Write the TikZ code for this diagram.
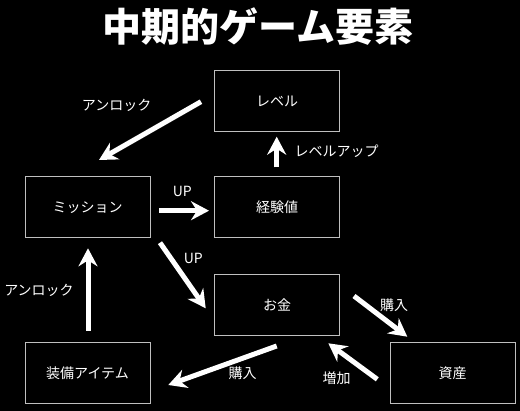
\documentclass[tikz,border=0pt]{standalone}
\usepackage{fontspec}
\setmainfont{Noto Sans CJK JP}
\usetikzlibrary{arrows.meta}
\begin{document}
\begin{tikzpicture}[x=1pt,y=-1pt,
  box/.style={draw=black!25!white, line width=1pt, minimum width=125pt, minimum height=61pt, inner sep=0pt, text=white, font=\fontsize{14}{16}\selectfont},
  lbl/.style={text=white, font=\fontsize{14}{16}\selectfont, inner sep=0pt},
  bigarrow/.style={draw=white, line width=5pt, -{Stealth[length=18pt,width=19pt,inset=6pt]}}]
\fill[black] (0,0) rectangle (520,411);
\useasboundingbox (0,0) rectangle (520,411);
\node[text=white, font=\fontsize{39}{42}\selectfont\bfseries] (title) at (258,27) {中期的ゲーム要素};
\node[box] (level) at (277.2,101.5) {レベル};
\node[box] (mission) at (87.5,207.2) {ミッション};
\node[box] (exp) at (277.2,207.2) {経験値};
\node[box] (money) at (277.2,305.2) {お金};
\node[box] (equip) at (87.5,372.8) {装備アイテム};
\node[box] (asset) at (452.5,372.8) {資産};
\coordinate (a1s) at (201,101.7); \coordinate (a1e) at (99,160);
\coordinate (a2s) at (276.7,167.3); \coordinate (a2e) at (276.7,136.7);
\coordinate (a3s) at (159.3,210.7); \coordinate (a3e) at (209,210.7);
\coordinate (a4s) at (160,242.7); \coordinate (a4e) at (205.7,308.3);
\coordinate (a5s) at (88,330.7); \coordinate (a5e) at (88,248.3);
\coordinate (a6s) at (276.7,346); \coordinate (a6e) at (168.3,385);
\coordinate (a7s) at (354,296); \coordinate (a7e) at (407.3,336.7);
\coordinate (a8s) at (377.3,379.3); \coordinate (a8e) at (328.3,343.3);
\draw[bigarrow] (a1s) -- (a1e);
\draw[bigarrow] (a2s) -- (a2e);
\draw[bigarrow] (a3s) -- (a3e);
\draw[bigarrow] (a4s) -- (a4e);
\draw[bigarrow] (a5s) -- (a5e);
\draw[bigarrow] (a6s) -- (a6e);
\draw[bigarrow] (a7s) -- (a7e);
\draw[bigarrow] (a8s) -- (a8e);
\node[lbl] (l1) at (116.7,105) {アンロック};
\node[lbl] (l2) at (336.7,151.7) {レベルアップ};
\node[lbl] (l3) at (182.3,191.7) {UP};
\node[lbl] (l4) at (193.3,258.3) {UP};
\node[lbl] (l5) at (39,290) {アンロック};
\node[lbl] (l6) at (394,305) {購入};
\node[lbl] (l7) at (242.7,373.3) {購入};
\node[lbl] (l8) at (336.7,378.3) {増加};
\end{tikzpicture}
\end{document}
